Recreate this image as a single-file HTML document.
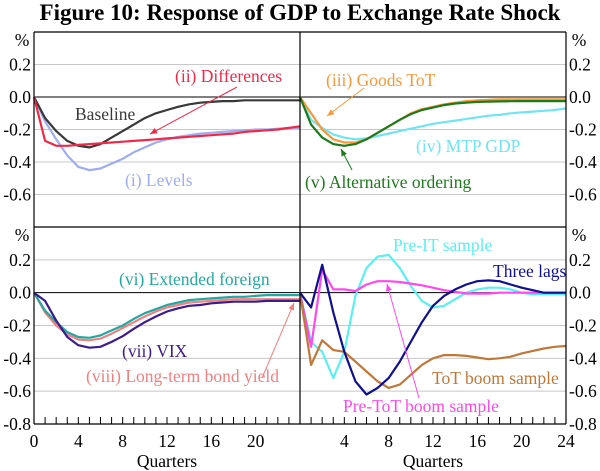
<!DOCTYPE html>
<html><head><meta charset="utf-8"><style>
body{margin:0;background:#fff}
svg{display:block}
text{font-family:"Liberation Serif","Times New Roman",serif}
</style></head><body>
<svg id="chart" width="600" height="471" viewBox="0 0 600 471" xmlns="http://www.w3.org/2000/svg" font-family="Liberation Serif, serif">
<text x="300" y="20" text-anchor="middle" font-size="23" font-weight="bold" font-family="Liberation Serif, serif">Figure 10: Response of GDP to Exchange Rate Shock</text>
<g id="grid"></g>
<g id="lines"></g>
<g id="frame"></g>
<g id="labels" font-size="17.5" font-family="Liberation Serif, serif"></g>
</svg>
<script>
const quarters = [0,1,2,3,4,5,6,7,8,9,10,11,12,13,14,15,16,17,18,19,20,21,22,23,24];
const yTicks = [0.4,0.2,0.0,-0.2,-0.4,-0.6,-0.8];
const xTickLabelsLeft = [0,4,8,12,16,20];
const xTickLabelsRight = [4,8,12,16,20,24];
const baseline = [0,-0.13,-0.21,-0.27,-0.30,-0.31,-0.29,-0.25,-0.21,-0.17,-0.13,-0.10,-0.08,-0.06,-0.045,-0.035,-0.03,-0.025,-0.025,-0.02,-0.02,-0.02,-0.02,-0.02,-0.02];
const levels = [0,-0.15,-0.26,-0.36,-0.43,-0.45,-0.44,-0.41,-0.38,-0.34,-0.31,-0.28,-0.26,-0.245,-0.235,-0.225,-0.22,-0.215,-0.21,-0.205,-0.2,-0.2,-0.195,-0.19,-0.19];
const differences = [0,-0.27,-0.30,-0.30,-0.295,-0.29,-0.285,-0.28,-0.275,-0.27,-0.265,-0.26,-0.255,-0.25,-0.245,-0.24,-0.235,-0.23,-0.225,-0.215,-0.21,-0.205,-0.2,-0.19,-0.18];
const goodsToT = [0,-0.1,-0.2,-0.26,-0.28,-0.28,-0.26,-0.22,-0.18,-0.14,-0.1,-0.075,-0.06,-0.045,-0.035,-0.025,-0.02,-0.018,-0.015,-0.015,-0.015,-0.015,-0.015,-0.015,-0.015];
const mtpGDP = [0,-0.14,-0.19,-0.23,-0.25,-0.26,-0.255,-0.24,-0.225,-0.21,-0.195,-0.18,-0.165,-0.155,-0.145,-0.135,-0.125,-0.115,-0.11,-0.1,-0.095,-0.09,-0.085,-0.08,-0.07];
const altOrdering = [0,-0.17,-0.25,-0.29,-0.30,-0.29,-0.26,-0.22,-0.18,-0.14,-0.105,-0.08,-0.065,-0.05,-0.04,-0.035,-0.03,-0.028,-0.027,-0.026,-0.025,-0.025,-0.025,-0.025,-0.025];
const extForeign = [0,-0.11,-0.18,-0.24,-0.27,-0.275,-0.26,-0.23,-0.2,-0.16,-0.125,-0.1,-0.075,-0.06,-0.045,-0.04,-0.035,-0.03,-0.025,-0.025,-0.02,-0.015,-0.015,-0.015,-0.015];
const vix = [0,-0.05,-0.17,-0.27,-0.32,-0.335,-0.33,-0.30,-0.265,-0.22,-0.18,-0.145,-0.115,-0.095,-0.08,-0.075,-0.065,-0.06,-0.055,-0.055,-0.055,-0.05,-0.05,-0.05,-0.05];
const bondYield = [0,-0.12,-0.2,-0.255,-0.285,-0.29,-0.28,-0.25,-0.215,-0.18,-0.145,-0.115,-0.09,-0.075,-0.06,-0.055,-0.05,-0.045,-0.04,-0.04,-0.04,-0.04,-0.04,-0.04,-0.04];
const preIT = [0,-0.3,-0.36,-0.52,-0.36,-0.02,0.15,0.22,0.23,0.15,0.04,-0.05,-0.09,-0.08,-0.04,0.0,0.02,0.03,0.03,0.02,0.0,-0.01,-0.01,-0.01,-0.01];
const threeLags = [0,-0.09,0.17,-0.12,-0.36,-0.54,-0.62,-0.58,-0.52,-0.42,-0.3,-0.18,-0.08,-0.02,0.02,0.05,0.07,0.075,0.07,0.05,0.03,0.015,0.0,0.0,0.0];
const preToT = [0,-0.33,0.14,0.02,0.02,0.01,0.05,0.07,0.07,0.065,0.055,0.045,0.03,0.015,0.005,-0.005,-0.005,-0.005,0,0,0,0,0,0,0];
const totBoom = [0,-0.44,-0.29,-0.35,-0.36,-0.42,-0.48,-0.54,-0.58,-0.56,-0.5,-0.44,-0.4,-0.38,-0.38,-0.385,-0.395,-0.405,-0.4,-0.39,-0.37,-0.355,-0.34,-0.33,-0.325];

const NS='http://www.w3.org/2000/svg';
const panels = {
  tl:{x0:34,x1:300,yTop:32,yBot:227},
  tr:{x0:300,x1:566,yTop:32,yBot:227},
  bl:{x0:34,x1:300,yTop:227,yBot:424},
  br:{x0:300,x1:566,yTop:227,yBot:424}
};
function xs(p,q){return p.x0+(q/24)*(p.x1-p.x0);}
function ys(p,v){return p.yTop+(0.4-v)/1.2*(p.yBot-p.yTop);}
function mk(tag,attrs,parent){const e=document.createElementNS(NS,tag);for(const k in attrs)e.setAttribute(k,attrs[k]);parent.appendChild(e);return e;}
const grid=document.getElementById('grid'),lines=document.getElementById('lines'),frame=document.getElementById('frame'),labels=document.getElementById('labels');

for(const key in panels){
  const p=panels[key];
  yTicks.forEach(v=>{
    if(v===0.4||v===-0.8)return;
    const l=mk('line',{x1:p.x0,x2:p.x1,y1:ys(p,v),y2:ys(p,v),stroke:v===0?'#000':'#c8c8c8','stroke-width':1},grid);
    
    
  });
}
[[34,32,566,32],[34,227,566,227],[34,424,566,424],[34,32,34,424],[566,32,566,424],[300,32,300,424]].forEach(c=>{
  const l=mk('line',{x1:c[0],y1:c[1],x2:c[2],y2:c[3],stroke:'#000','stroke-width':1.2},frame);
  
  
});
['bl','br'].forEach(k=>{const p=panels[k];quarters.forEach(q=>{if(q===0||q===24)return;
  const t=mk('line',{x1:xs(p,q),x2:xs(p,q),y1:p.yBot,y2:p.yBot-7,stroke:'#000','stroke-width':1},frame);
  
  
});});
function txt(s,x,y,attrs,name){const t=mk('text',Object.assign({x:x,y:y,'font-family':'Liberation Serif, serif','font-size':17.5},attrs||{}),labels);t.textContent=s;
  
  return t;}
[['tl','tr'],['bl','br']].forEach((pr,i)=>{
  const p=panels[pr[0]];
  yTicks.forEach(v=>{
    if(v===0.4)return; if(i===0&&v===-0.8)return;
    const s=v.toFixed(1);
    txt(s,31,ys(p,v)+6,{'text-anchor':'end'},'y-tick-label-left');
    txt(s,569,ys(p,v)+6,{},'y-tick-label-right');
  });
  txt('%',22,p.yTop+14,{'text-anchor':'middle'},'y-unit-left');
  txt('%',579,p.yTop+14,{'text-anchor':'middle'},'y-unit-right');
});
xTickLabelsLeft.forEach(q=>txt(String(q),xs(panels.bl,q),447,{'text-anchor':'middle'},'x-tick-label'));
xTickLabelsRight.forEach(q=>txt(String(q),xs(panels.br,q),447,{'text-anchor':'middle'},'x-tick-label'));
txt('Quarters',167,467,{'text-anchor':'middle'},'x-axis-title-left');
txt('Quarters',433,467,{'text-anchor':'middle'},'x-axis-title-right');

function series(pk,data,color,name,w){
  const p=panels[pk];
  const d=data.map((v,i)=>(i?'L':'M')+xs(p,quarters[i]).toFixed(1)+','+ys(p,v).toFixed(1)).join(' ');
  const e=mk('path',{d:d,fill:'none',stroke:color,'stroke-width':w||2.2,'stroke-linejoin':'round'},lines);
  
  
}
series('tl',levels,'#a0acf0','line-levels');
series('tl',baseline,'#383838','line-baseline');
series('tl',differences,'#ee2a4a','line-differences');
series('tr',mtpGDP,'#70e4f2','line-mtp-gdp');
series('tr',goodsToT,'#f8983a','line-goods-tot');
series('tr',altOrdering,'#1c7a1c','line-alternative-ordering');
series('bl',bondYield,'#f28080','line-bond-yield');
series('bl',extForeign,'#22a8a0','line-extended-foreign');
series('bl',vix,'#3c1c8c','line-vix');
series('br',preIT,'#5af0f0','line-pre-it');
series('br',preToT,'#ff48ee','line-pre-tot-boom');
series('br',totBoom,'#c07838','line-tot-boom');
series('br',threeLags,'#10108e','line-three-lags');

function arrow(x1,y1,x2,y2,color,name){
  const e=mk('line',{x1:x1,y1:y1,x2:x2,y2:y2,stroke:color,'stroke-width':1},lines);
  
  
  const a=Math.atan2(y2-y1,x2-x1),L=7,W=3;
  const pts=[[x2,y2],[x2-L*Math.cos(a)+W*Math.sin(a),y2-L*Math.sin(a)-W*Math.cos(a)],[x2-L*Math.cos(a)-W*Math.sin(a),y2-L*Math.sin(a)+W*Math.cos(a)]];
  const h=mk('polygon',{points:pts.map(p=>p.join(',')).join(' '),fill:color},lines);
  
  
}
arrow(237,87,150,134,'#ee2a4a','arrow-differences');
arrow(364,88,327,116,'#f8983a','arrow-goods-tot');
arrow(352,170,341,149,'#1c7a1c','arrow-alternative-ordering');
arrow(262,378,294,303,'#f28080','arrow-bond-yield');
arrow(419,398,387,284,'#ff48ee','arrow-pre-tot-boom');

txt('Baseline',75,120,{fill:'#383838'},'label-baseline');
txt('(ii) Differences',175,82,{fill:'#ee2a4a'},'label-differences');
txt('(i) Levels',125,186,{fill:'#a0acf0'},'label-levels');
txt('(iii) Goods ToT',326,86,{fill:'#f8983a'},'label-goods-tot');
txt('(iv) MTP GDP',416,152,{fill:'#70e4f2'},'label-mtp-gdp');
txt('(v) Alternative ordering',305,188,{fill:'#1c7a1c'},'label-alternative-ordering');
txt('(vi) Extended foreign',119,285,{fill:'#22a8a0'},'label-extended-foreign');
txt('(vii) VIX',122,357,{fill:'#3c1c8c'},'label-vix');
txt('(viii) Long-term bond yield',86,382,{fill:'#f28080'},'label-bond-yield');
txt('Pre-IT sample',393,251,{fill:'#5af0f0'},'label-pre-it');
txt('Three lags',493,277,{fill:'#10108e'},'label-three-lags');
txt('ToT boom sample',432,384,{fill:'#c07838'},'label-tot-boom');
txt('Pre-ToT boom sample',343,412,{fill:'#ff48ee'},'label-pre-tot-boom');
</script>
</body></html>
